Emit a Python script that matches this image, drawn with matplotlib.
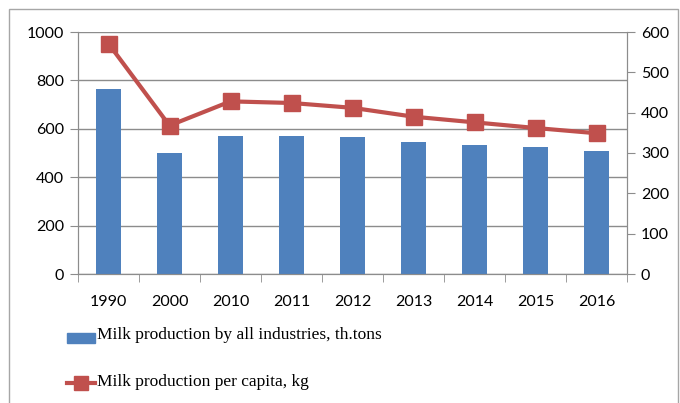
import numpy as np
import matplotlib.pyplot as plt
from matplotlib.patches import Rectangle
from matplotlib.lines import Line2D

years = ['1990', '2000', '2010', '2011', '2012', '2013', '2014', '2015', '2016']
milk_total = [765, 499, 571, 572, 568, 545, 534, 523, 510]
milk_per_capita = [571, 368, 428, 424, 412, 390, 376, 362, 349]

bar_color = '#4F81BD'
line_color = '#C0504D'
grid_color = '#8C8C8C'

plt.rcParams['font.family'] = ['Lato', 'DejaVu Sans']

fig = plt.figure(figsize=(6.8, 4.03), dpi=100)
ax = fig.add_axes([78 / 680, 1 - 274 / 403, 549 / 680, 242 / 403])

x = np.arange(len(years))
ax.bar(x, milk_total, width=0.4, color=bar_color, zorder=3)
ax.set_xlim(-0.5, len(years) - 0.5)
ax.set_ylim(0, 1000)
ax.set_yticks(range(0, 1001, 200))
ax.yaxis.grid(True, color=grid_color, linewidth=1, zorder=0)
ax.set_xticks(x)
ax.set_xticklabels(years)
ax.set_xticks(np.arange(-0.5, len(years), 1), minor=True)
ax.tick_params(axis='x', which='major', length=0, pad=15, labelsize=11.5)
ax.tick_params(axis='x', which='minor', length=6, color=grid_color, direction='out')
ax.tick_params(axis='y', length=6, color=grid_color, labelsize=11.5, pad=4)
ax.spines['top'].set_visible(False)
for s in ['left', 'right', 'bottom']:
    ax.spines[s].set_color(grid_color)

ax2 = ax.twinx()
ax2.plot(x, milk_per_capita, color=line_color, linewidth=3, marker='s',
         markersize=11, zorder=4)
ax2.set_ylim(0, 600)
ax2.set_yticks(range(0, 601, 100))
ax2.tick_params(axis='y', length=6, color=grid_color, labelsize=11.5, pad=4)
ax2.spines['top'].set_visible(False)
for s in ['left', 'right', 'bottom']:
    ax2.spines[s].set_color(grid_color)

# chart border
fig.patches.append(Rectangle((9 / 680, -0.05), 669 / 680, 1 - 9 / 403 + 0.05,
                             transform=fig.transFigure, fill=False,
                             edgecolor='#A6A6A6', linewidth=1))

# legend
fig.patches.append(Rectangle((67 / 680, 1 - 343 / 403), 28 / 680, 10 / 403,
                             transform=fig.transFigure, color=bar_color))
fig.text(97 / 680, 1 - 335 / 403, 'Milk production by all industries, th.tons',
         family='Liberation Serif', fontsize=12.5, va='center')
fig.lines.append(Line2D([67 / 680, 81 / 680, 95 / 680], [1 - 383 / 403] * 3,
                        transform=fig.transFigure, color=line_color, linewidth=3,
                        marker='s', markersize=10, markevery=[1]))
fig.text(97 / 680, 1 - 382 / 403, 'Milk production per capita, kg',
         family='Liberation Serif', fontsize=12.5, va='center')

fig.savefig('out.png', dpi=100)
